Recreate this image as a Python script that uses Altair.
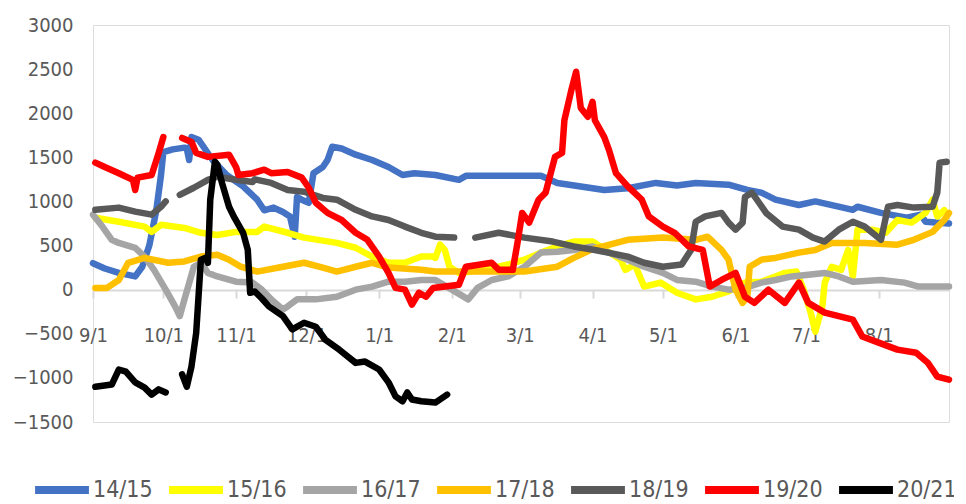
import altair as alt
import pandas as pd

# season day offsets (0 = Sep 1) and values, per series; segments separated by gaps
s1415_days = [0, 5, 11, 18, 21, 24, 27, 29, 30, 34, 39, 40, 41, 42, 45, 51, 57, 64, 70, 73, 77, 81, 84, 86,
              87, 89, 92, 94, 98, 100, 102, 106, 112, 119, 126, 132, 137, 146, 156, 159, 191, 198, 208, 218,
              228, 240, 249, 257, 271, 279, 285, 291, 301, 308, 324, 326, 336, 347, 353, 355, 365]
s1415_vals = [300, 240, 190, 150, 260, 500, 900, 1300, 1560, 1590, 1610, 1600, 1470, 1730, 1700, 1470, 1300, 1170, 1020, 900, 930, 880, 830, 600,
              1050, 1020, 985, 1320, 1390, 1470, 1620, 1600, 1530, 1470, 1390, 1300, 1320, 1300, 1245, 1290, 1290, 1210, 1170, 1130,
              1150, 1210, 1180, 1210, 1190, 1130, 1100, 1020, 960, 1000, 905, 940, 870, 815, 850, 770, 750]

s1516_days = [1, 11, 22, 25, 29, 39, 46, 53, 61, 70, 73, 83, 90, 104, 112, 119, 126, 133, 140, 145, 146, 148, 150, 152,
              156, 167, 177, 184, 191, 198, 205, 213, 214, 225, 227, 231, 235, 242, 249, 257, 264, 271, 278, 285, 291,
              295, 300, 303, 306, 308, 311, 312, 315, 319, 322, 324, 326, 332, 338, 343, 349, 355, 358, 360, 363]
s1516_vals = [815, 770, 715, 655, 735, 700, 645, 620, 655, 655, 715, 645, 590, 530, 475, 375, 305, 305, 375, 375, 360, 510, 450, 260,
              190, 225, 285, 340, 420, 490, 545, 545, 530, 340, 225, 285, 35, 80, -35, -110, -80, -20, 80, 90, 150,
              190, 205, 0, -260, -475, -190, 80, 260, 225, 450, 150, 680, 680, 645, 790, 760, 870, 1020, 830, 900]

s1617_days = [0, 4, 8, 11, 18, 22, 26, 31, 35, 37, 39, 43, 46, 49, 53, 61, 68, 72, 76, 81, 83, 87, 95, 104, 112, 119,
              126, 133, 140, 146, 153, 160, 164, 170, 177, 184, 191, 198, 205, 213, 228, 235, 243, 249, 257, 264, 271,
              278, 285, 291, 298, 312, 318, 324, 336, 346, 352, 365]
s1617_vals = [850, 715, 565, 530, 475, 375, 225, 0, -190, -300, -110, 260, 305, 190, 150, 90, 80, 0, -110, -225, -190, -110, -110, -80, 0, 35,
              90, 90, 110, 110, 0, -110, 20, 110, 150, 260, 420, 430, 450, 490, 340, 260, 190, 110, 90, 35, 0,
              20, 80, 110, 150, 190, 150, 90, 110, 80, 35, 35]

s1718_days = [1, 6, 11, 15, 22, 32, 39, 46, 53, 58, 63, 70, 81, 90, 98, 104, 112, 119, 126, 140, 146, 156, 170, 184,
              198, 205, 213, 228, 243, 257, 262, 268, 271, 274, 277, 279, 280, 285, 291, 301, 308, 315, 329, 343, 350,
              358, 363, 365]
s1718_vals = [20, 20, 110, 305, 360, 305, 320, 375, 395, 340, 260, 205, 260, 305, 250, 205, 260, 305, 250, 225, 205, 205, 205, 205,
              260, 360, 460, 565, 590, 565, 600, 450, 340, 0, -150, -80, 260, 340, 360, 420, 450, 530, 530, 510, 565,
              655, 790, 870]

s1819_days = [[1, 11, 18, 25, 29, 31],
              [37, 43, 49, 53, 61, 68, 69, 76, 83, 90, 98, 104, 112, 119, 126, 133, 140, 146, 154],
              [163, 173, 184, 196, 205, 214, 228, 235, 243, 251, 255, 257, 261, 268, 271, 274, 277, 278, 281, 284,
               287, 294, 301, 307, 312, 318, 324, 329, 336, 339, 343, 350, 358, 360, 361, 364]]
s1819_vals = [[905, 930, 885, 850, 940, 1000],
              [1075, 1155, 1245, 1280, 1245, 1220, 1250, 1210, 1130, 1110, 1040, 1020, 905, 830, 790, 715, 645, 600, 590],
              [590, 645, 590, 545, 490, 450, 375, 305, 260, 285, 450, 770, 830, 870, 760, 680, 760, 1050, 1100, 985,
               870, 715, 680, 590, 545, 680, 770, 715, 565, 940, 960, 930, 940, 1100, 1440, 1450]]

s1920_days = [[1, 5, 11, 17, 18, 19, 25, 28, 30],
              [38, 42, 44, 49, 58, 61, 62, 68, 73, 76, 83, 89, 92, 95, 100, 106, 112, 117, 122, 126, 129, 133, 136,
               139, 142, 145, 156, 159, 170, 173, 179, 181, 183, 186, 190, 193, 197, 200, 201, 204, 206, 208, 211,
               213, 214, 218, 220, 223, 228, 234, 237, 243, 248, 254, 260, 263, 268, 274, 278, 282, 288, 295, 301,
               305, 312, 318, 324, 328, 335, 343, 351, 356, 360, 365]]
s1920_vals = [[1440, 1390, 1320, 1245, 1130, 1270, 1300, 1550, 1730],
              [1720, 1675, 1550, 1505, 1530, 1390, 1300, 1320, 1360, 1320, 1335, 1270, 1155, 985, 870, 790, 645, 565, 375, 190, 20, 0, -170,
               -35, -80, 20, 55, 260, 305, 225, 225, 530, 870, 760, 1020, 1100, 1505, 1550, 1920, 2265, 2470, 2060, 1960,
               2130, 1920, 1730, 1585, 1320, 1170, 1020, 830, 715, 645, 490, 450, 35, 110, 190, -80, -150, 0, -150, 80,
               -150, -260, -300, -340, -530, -600, -680, -715, -830, -985, -1020]]

s2021_days = [[1, 8, 11, 14, 18, 22, 25, 28, 31],
              [38, 40, 42, 44, 46, 48, 49, 50, 52, 53, 55, 58, 60, 64, 66, 67, 69, 72, 75, 81, 85, 90, 95, 99, 105,
               112, 116, 122, 126, 129, 132, 134, 136, 140, 146, 151]]
s2021_vals = [[-1100, -1075, -905, -930, -1050, -1110, -1190, -1130, -1165],
              [-960, -1100, -870, -490, 340, 360, 305, 1020, 1450, 1415, 1210, 940, 830, 645, 450, -35, -20, -100, -190, -300, -450, -375, -420, -565, -680,
               -830, -815, -905, -1050, -1210, -1265, -1165, -1245, -1265, -1280, -1190]]

series_names = ["14/15", "15/16", "16/17", "17/18", "18/19", "19/20", "20/21"]
series_colors = ["#4472C4", "#FFFF00", "#A5A5A5", "#FFC000", "#595959", "#FF0000", "#000000"]
y_ticks = [-1500, -1000, -500, 0, 500, 1000, 1500, 2000, 2500, 3000]
month_ticks = ["2019-09-01", "2019-10-01", "2019-11-01", "2019-12-01", "2020-01-01", "2020-02-01",
               "2020-03-01", "2020-04-01", "2020-05-01", "2020-06-01", "2020-07-01", "2020-08-01"]

all_days = [[s1415_days], [s1516_days], [s1617_days], [s1718_days], s1819_days, s1920_days, s2021_days]
all_vals = [[s1415_vals], [s1516_vals], [s1617_vals], [s1718_vals], s1819_vals, s1920_vals, s2021_vals]

base = pd.Timestamp("2019-09-01")
rows = []
for name, segs_d, segs_v in zip(series_names, all_days, all_vals):
    for k, (ds, vs) in enumerate(zip(segs_d, segs_v)):
        for d, v in zip(ds, vs):
            rows.append({"series": name, "seg": f"{name}-{k}",
                         "date": (base + pd.Timedelta(days=d)).strftime("%Y-%m-%d"), "value": v})
df = pd.DataFrame(rows)

FONT = "Liberation Sans Narrow, DejaVu Sans Condensed, Roboto Condensed, Liberation Sans, sans-serif"
TXT = "#595959"

chart = alt.Chart(df).mark_line(strokeWidth=6.5, strokeJoin="round", strokeCap="round").encode(
    x=alt.X("date:T",
            scale=alt.Scale(domain=["2019-09-01", "2020-08-31"], nice=False),
            axis=alt.Axis(title=None, format="%-m/%-d", values=month_ticks, grid=False,
                          offset=-132, domainColor="#D9D9D9", domainWidth=2,
                          tickColor="#D9D9D9", tickWidth=2, tickSize=8,
                          labelPadding=27, labelFont=FONT, labelFontSize=20, labelColor=TXT,
                          labelAlign="center", labelFlush=False, labelOverlap=False)),
    y=alt.Y("value:Q",
            scale=alt.Scale(domain=[-1500, 3000], nice=False, zero=False),
            axis=alt.Axis(title=None, values=y_ticks, format="d", grid=False, domain=False, ticks=False,
                          labelPadding=20, labelFont=FONT, labelFontSize=20, labelColor=TXT)),
    color=alt.Color("series:N",
                    scale=alt.Scale(domain=series_names, range=series_colors),
                    legend=alt.Legend(title=None, orient="none", direction="horizontal",
                                      legendX=-62, legendY=434, columns=7,
                                      symbolType="stroke", symbolSize=2900, symbolStrokeWidth=8,
                                      labelFont=FONT, labelFontSize=23, labelColor=TXT,
                                      labelOffset=0, columnPadding=0)),
    detail="seg:N",
    order=alt.Order("date:T"),
).properties(
    width=856, height=397,
    padding={"left": 85, "top": 17, "right": 5, "bottom": 82},
    autosize=alt.AutoSizeParams(type="none"),
).configure_view(stroke=None).configure(background="white")

chart.save("out.html", embed_options={"renderer": "svg", "actions": False})
